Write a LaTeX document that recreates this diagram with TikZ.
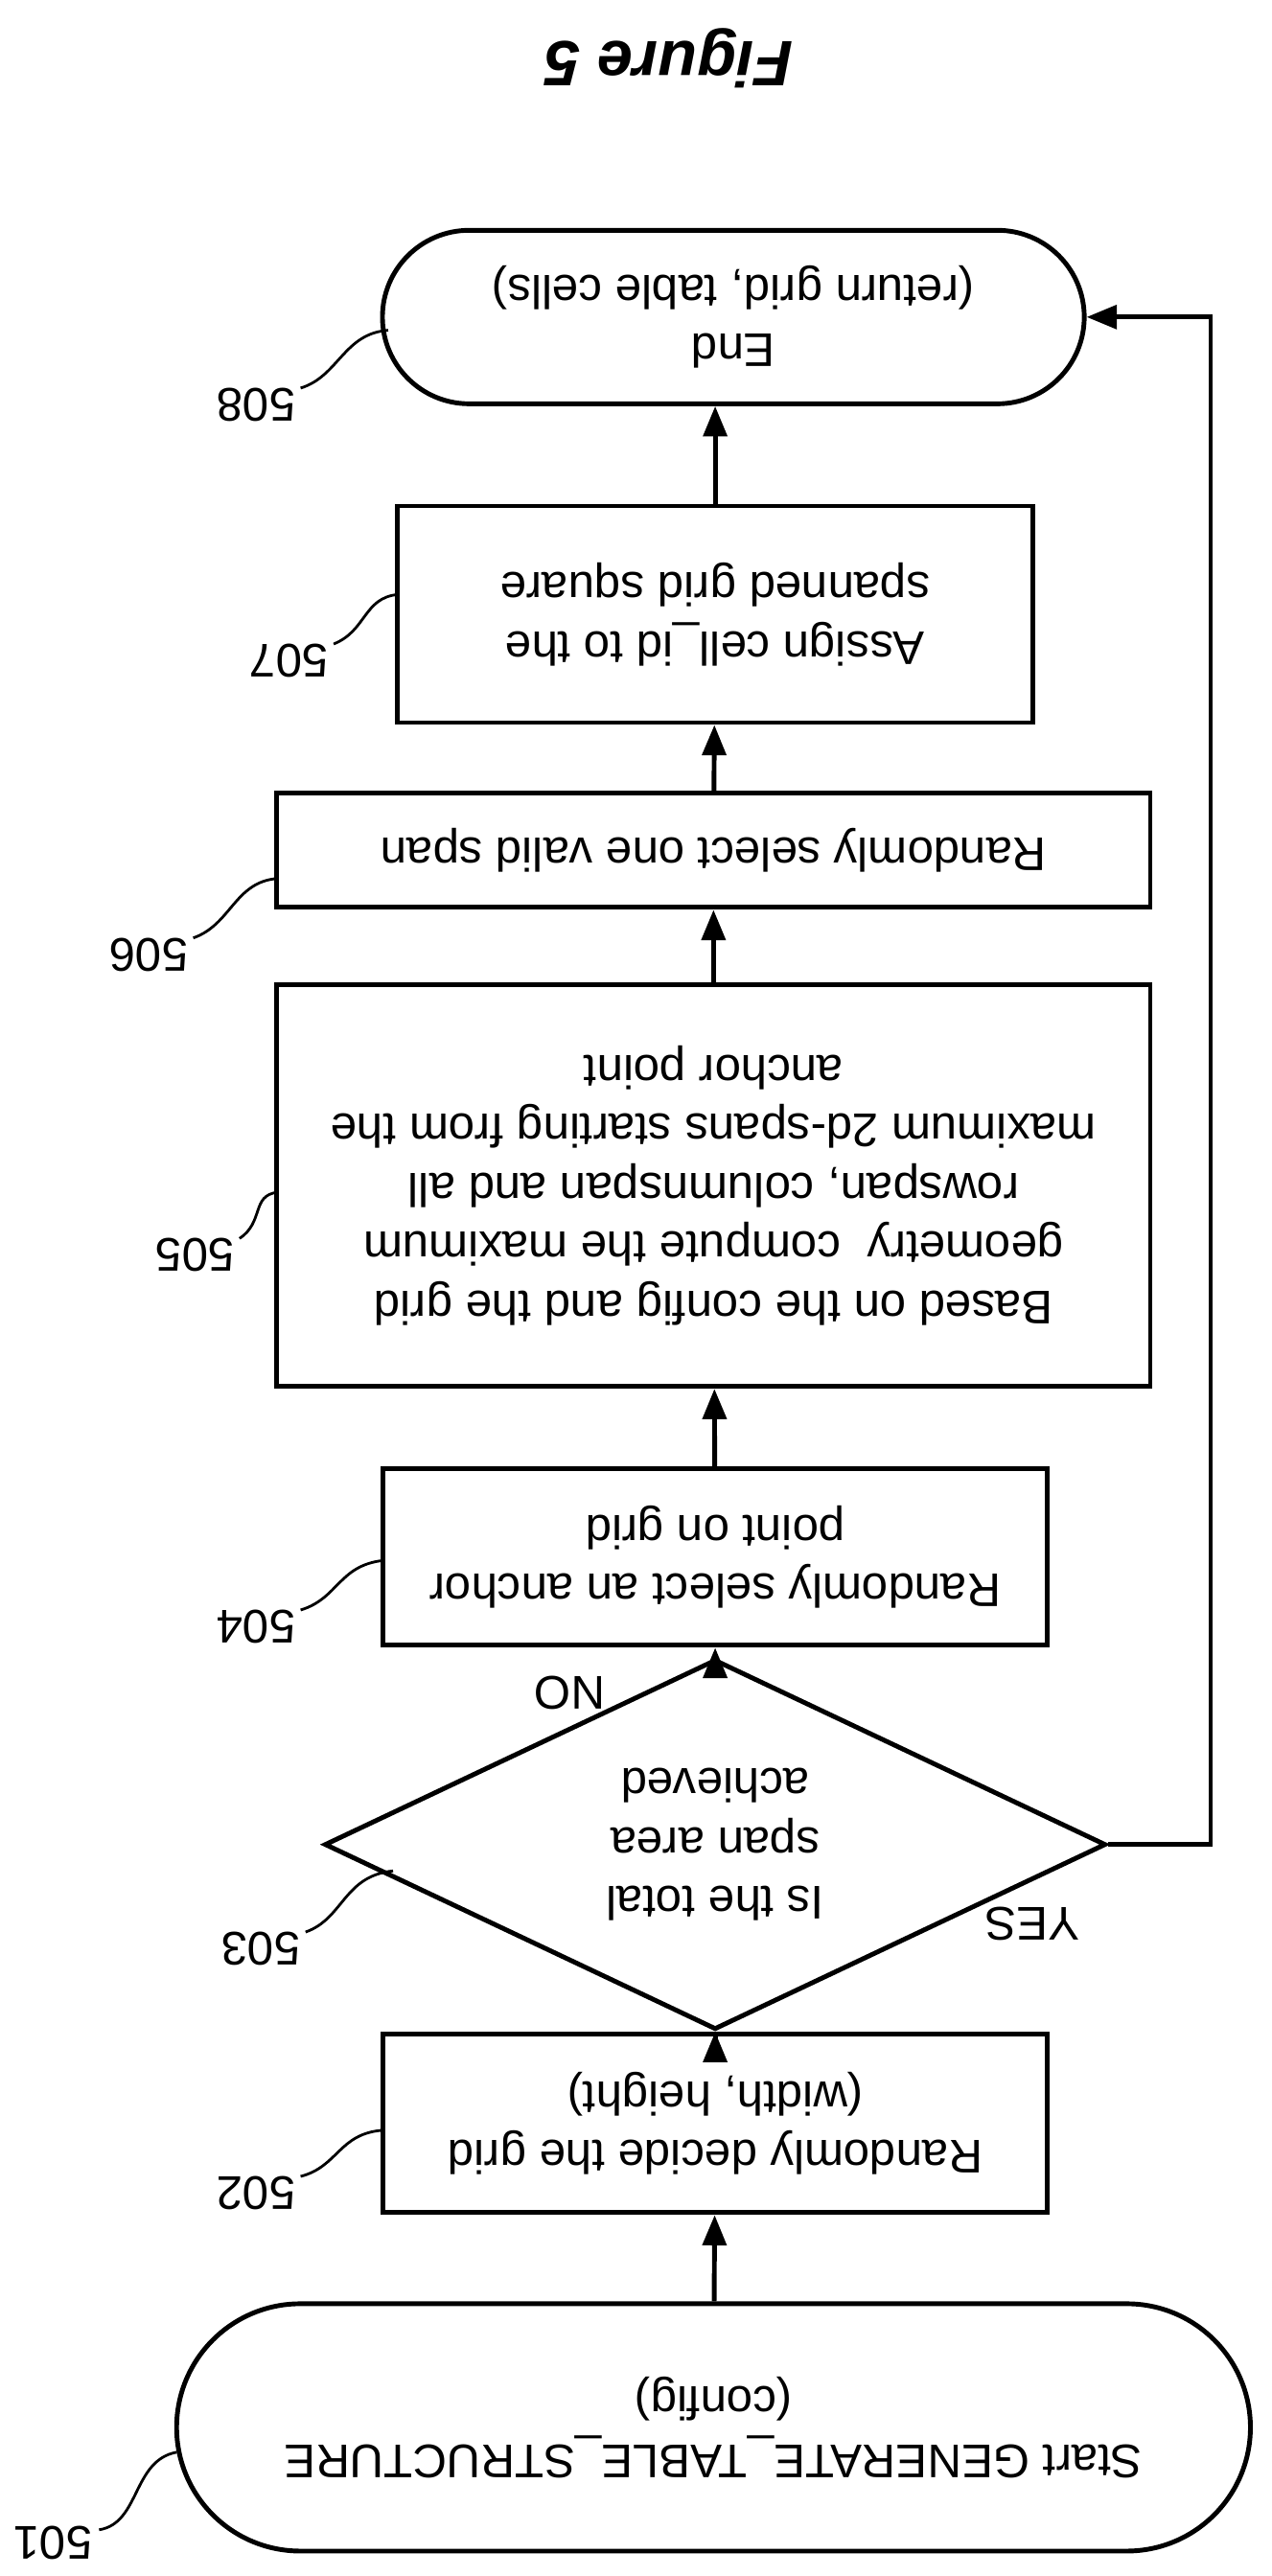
\documentclass[tikz,border=0pt]{standalone}
\usepackage{fontspec}
\setmainfont{Liberation Sans}
\usetikzlibrary{shapes.geometric,shapes.misc,arrows.meta}
\begin{document}
\begin{tikzpicture}[x=0.01723cm,y=-0.01723cm,line width=1.4pt,
  every node/.style={rotate=180,font=\fontsize{14}{17.5}\selectfont},
  box/.style={draw,rectangle,align=center,inner sep=0pt},
  term/.style={draw,rounded rectangle,align=center,inner sep=0pt},
  test/.style={draw,diamond,align=center,inner sep=0pt},
  flow/.style={-{Triangle[length=9pt,width=7pt]}},
  ref/.style={line width=0.8pt}]
\useasboundingbox (0,0) rectangle (770,1560);
\node[font=\fontsize{19}{22}\selectfont\bfseries\itshape] (title) at (405,35) {Figure 5};
% flow chart boxes
\node[term,minimum width=11.2cm,minimum height=2.58cm] (s501) at (432,1470) {Start GENERATE\_TABLE\_STRUCTURE\\(config)};
\node[box,minimum width=6.93cm,minimum height=1.86cm] (s502) at (433,1286) {Randomly decide the grid\\(width, height)};
\node[test,minimum width=8.15cm,minimum height=2.67cm] (s503) at (433,1117) {Is the total\\span area\\achieved};
\node[box,minimum width=6.93cm,minimum height=1.84cm] (s504) at (433,943) {Randomly select an anchor\\point on grid};
\node[box,minimum width=9.11cm,minimum height=4.19cm] (s505) at (432,718) {Based on the config and the grid\\geometry\ \ compute the maximum\\rowspan, columnspan and all\\maximum 2d-spans starting from the\\anchor point};
\node[box,minimum width=9.11cm,minimum height=1.19cm] (s506) at (432,515) {Randomly select one valid span};
\node[box,minimum width=6.63cm,minimum height=2.26cm] (s507) at (433,372) {Assign cell\_id to the\\spanned grid square};
\node[term,minimum width=7.32cm,minimum height=1.81cm] (s508) at (444,192) {End\\(return grid, table cells)};
% connectors
\draw[flow] (s501) -- (s502);
\draw[flow] (s502) -- (s503);
\draw[flow] (s503) -- (s504);
\node (no) at (345,1025) {NO};
\draw[flow] (s504) -- (s505);
\draw[flow] (s505) -- (s506);
\draw[flow] (s506) -- (s507);
\draw[flow] (s507.south) -- (s507.south |- s508.north);
\draw[flow] (s503.west) -- (733,1117) |- (s508.west);
\node (yes) at (625,1165) {YES};
% reference numerals
\node (n501) at (32,1540) {501};
\node (n502) at (155,1328) {502};
\node (n503) at (158,1180) {503};
\node (n504) at (155,985) {504};
\node (n505) at (118,760) {505};
\node (n506) at (90,578) {506};
\node (n507) at (175,400) {507};
\node (n508) at (155,245) {508};
\draw[ref] (60,1532) .. controls (85,1528) and (80,1490) .. (107,1485);
\draw[ref] (182,1318) .. controls (205,1312) and (205,1292) .. (232,1290);
\draw[ref] (185,1170) .. controls (208,1162) and (208,1136) .. (238,1133);
\draw[ref] (182,975) .. controls (205,968) and (205,948) .. (232,945);
\draw[ref] (145,750) .. controls (160,740) and (152,724) .. (168,722);
\draw[ref] (117,568) .. controls (140,560) and (142,534) .. (168,532);
\draw[ref] (202,390) .. controls (222,382) and (220,362) .. (241,360);
\draw[ref] (182,235) .. controls (205,228) and (208,202) .. (235,200);
\end{tikzpicture}
\end{document}
